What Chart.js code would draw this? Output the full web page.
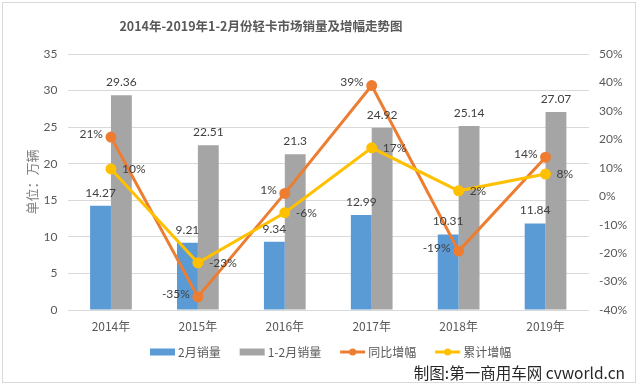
<!DOCTYPE html>
<html><head><meta charset="utf-8">
<script src="https://cdn.jsdelivr.net/npm/chart.js@4/dist/chart.umd.min.js"></script>
<style>
html,body{margin:0;padding:0;background:#fff;}
#wrap{position:relative;width:640px;height:389px;}
#frame{position:absolute;left:2px;top:2px;width:632px;height:379px;border:1px solid #d9d9d9;pointer-events:none;}
canvas{position:absolute;left:0;top:0;}
</style></head>
<body><div id="wrap"><canvas id="c" width="640" height="389"></canvas><div id="frame"></div></div>
<script>
const categories = ['2014年','2015年','2016年','2017年','2018年','2019年'];
const febSales = [14.27, 9.21, 9.34, 12.99, 10.31, 11.84];
const janFebSales = [29.36, 22.51, 21.3, 24.92, 25.14, 27.07];
const yoyGrowth = [20.8, -35.4, 1.0, 38.9, -19.3, 13.7];
const cumGrowth = [9.6, -23.4, -5.8, 17.0, 1.9, 7.8];
const seriesNames = ['2月销量','1-2月销量','同比增幅','累计增幅'];
const titleText = '2014年-2019年1-2月份轻卡市场销量及增幅走势图';
const axisTitle = '单位：万辆';
const sourceText = '制图:第一商用车网 cvworld.cn';

const FONT = "Lato, 'Noto Sans CJK SC', sans-serif";
const CJK = "'Noto Sans CJK SC', Lato, sans-serif";
const C_BLUE='#5B9BD5', C_GRAY='#A5A5A5', C_ORANGE='#ED7D31', C_YELLOW='#FFC000';

const labelPlugin = {
  id:'labels',
  afterDatasetsDraw(chart){
    const ctx = chart.ctx;
    ctx.save();
    ctx.fillStyle='#404040';
    ctx.font = '12px '+FONT;
    [0,1].forEach(di=>{
      const meta = chart.getDatasetMeta(di);
      const vals = chart.data.datasets[di].data;
      meta.data.forEach((el,j)=>{
        ctx.textAlign='center'; ctx.textBaseline='middle';
        ctx.fillText(String(vals[j]), el.x, el.y-13);
      });
    });
    [2,3].forEach(di=>{
      const meta = chart.getDatasetMeta(di);
      const vals = chart.data.datasets[di].data;
      meta.data.forEach((el,j)=>{
        ctx.textBaseline='middle';
        const t = Math.round(vals[j])+'%';
        if(di===2){ ctx.textAlign='right'; ctx.fillText(t, el.x-8, el.y-3); }
        else { ctx.textAlign='left'; ctx.fillText(t, el.x+11, el.y); }
      });
    });
    ctx.restore();
  },
  afterDraw(chart){
    const ctx = chart.ctx;
    ctx.save();
    ctx.fillStyle='#595959';
    ctx.font='bold 12.5px '+CJK;
    ctx.textAlign='center'; ctx.textBaseline='middle';
    ctx.fillText(titleText, 261, 26);
    ctx.font='12px '+CJK;
    ctx.textAlign='left';
    const colors=[C_BLUE,C_GRAY,C_ORANGE,C_YELLOW];
    let x=150; const y=352;
    seriesNames.forEach((n,i)=>{
      if(i<2){ ctx.fillStyle=colors[i]; ctx.fillRect(x,y-3.5,25,7); }
      else {
        ctx.strokeStyle=colors[i]; ctx.lineWidth=3;
        ctx.beginPath(); ctx.moveTo(x,y); ctx.lineTo(x+25,y); ctx.stroke();
        ctx.fillStyle=colors[i]; ctx.beginPath(); ctx.arc(x+12.5,y,3.5,0,Math.PI*2); ctx.fill();
      }
      ctx.fillStyle='#595959';
      ctx.fillText(n, x+28, y);
      x += 28 + ctx.measureText(n).width + 19;
    });
    ctx.fillStyle='#262626';
    ctx.font='15.5px '+CJK;
    ctx.textAlign='right';
    ctx.fillText(sourceText, 625, 373);
    ctx.restore();
  }
};

new Chart(document.getElementById('c'), {
  data:{
    labels: categories,
    datasets:[
      {type:'bar', label:seriesNames[0], data:febSales, yAxisID:'y', backgroundColor:C_BLUE, categoryPercentage:0.48, barPercentage:1, order:2},
      {type:'bar', label:seriesNames[1], data:janFebSales, yAxisID:'y', backgroundColor:C_GRAY, categoryPercentage:0.48, barPercentage:1, order:3},
      {type:'line', label:seriesNames[2], data:yoyGrowth, yAxisID:'y2', borderColor:C_ORANGE, backgroundColor:C_ORANGE, borderWidth:3, pointRadius:4, pointHoverRadius:4, tension:0, order:1},
      {type:'line', label:seriesNames[3], data:cumGrowth, yAxisID:'y2', borderColor:C_YELLOW, backgroundColor:C_YELLOW, borderWidth:3, pointRadius:4, pointHoverRadius:4, tension:0, order:0}
    ]
  },
  options:{
    responsive:false, animation:false,
    layout:{padding:{top:54,bottom:0,left:0,right:0}},
    plugins:{legend:{display:false}, title:{display:false}, tooltip:{enabled:false}},
    scales:{
      x:{grid:{display:false, drawTicks:false}, border:{display:false},
         ticks:{color:'#595959', font:{size:12, family:CJK}, padding:9},
         afterFit(s){ s.height=79; }},
      y:{position:'left', min:0, max:35, ticks:{stepSize:5, color:'#595959', font:{size:12, family:FONT}, padding:10},
         grid:{color:'#d9d9d9', drawTicks:false}, border:{display:false},
         title:{display:true, text:axisTitle, color:'#808080', font:{size:13, family:CJK}, padding:{top:24,bottom:0}},
         afterFit(s){ s.width=67.5; }},
      y2:{position:'right', min:-40, max:50, ticks:{stepSize:10, color:'#595959', font:{size:12, family:FONT}, padding:10, callback:v=>v+'%'},
         grid:{display:false, drawTicks:false}, border:{display:false},
         afterFit(s){ s.width=51; }}
    }
  },
  plugins:[labelPlugin]
});
</script></body></html>
